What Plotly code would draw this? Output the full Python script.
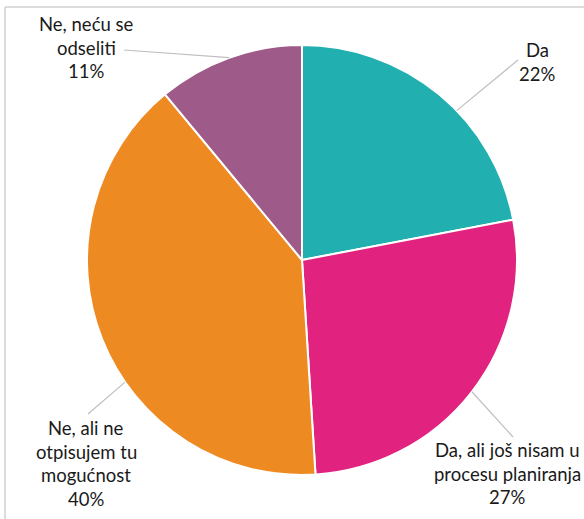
import math
import plotly.graph_objects as go

labels = ["Da", "Da, ali još nisam u procesu planiranja", "Ne, ali ne otpisujem tu mogućnost", "Ne, neću se odseliti"]
values = [22, 27, 40, 11]
label_lines = [["Da", "22%"],
               ["Da, ali još nisam u", "procesu planiranja", "27%"],
               ["Ne, ali ne", "otpisujem tu", "mogućnost", "40%"],
               ["Ne, neću se", "odseliti", "11%"]]
colors = ["#22AFB0", "#E1237F", "#EE8A22", "#9E5A88"]

W, H = 584, 519
CX, CY, R = 302, 260, 215
# label layout: center x and first-line center y (pixels), line pitch
label_pos = [(537, 50), (507, 450), (86, 428), (86, 24)]
LINE_PITCH = 23.5
line_end = [(518, 60), (513, 437), (88, 414), (124, 50)]
angle_offset = [6.4, 0, -13, 0]
FONT = dict(family="Lato", size=18.5, color="#1a1a1a")

def px(x):
    return x / W

def py(y):
    return 1 - y / H

fig = go.Figure(go.Pie(
    labels=labels, values=values, sort=False, direction="clockwise", rotation=0,
    marker=dict(colors=colors, line=dict(color="white", width=2)),
    textinfo="none", hoverinfo="label+percent", showlegend=False,
    domain=dict(x=[px(CX - R), px(CX + R)], y=[py(CY + R), py(CY - R)]),
))

shapes = []
annotations = []
total = sum(values)
cum = 0
for i, v in enumerate(values):
    mid = (cum + v / 2) / total * 360 + angle_offset[i]
    cum += v
    ex = CX + R * math.sin(math.radians(mid))
    ey = CY - R * math.cos(math.radians(mid))
    lx, ly = line_end[i]
    shapes.append(dict(type="line", xref="paper", yref="paper",
                       x0=px(ex), y0=py(ey), x1=px(lx), y1=py(ly),
                       line=dict(color="#BFBFBF", width=1.2)))
    tx, ty = label_pos[i]
    for j, line in enumerate(label_lines[i]):
        annotations.append(dict(text=line, x=px(tx), y=py(ty + j * LINE_PITCH), xref="paper", yref="paper",
                                showarrow=False, xanchor="center", yanchor="middle", align="center",
                                font=FONT))

# chart frame (partially visible)
shapes.append(dict(type="line", xref="paper", yref="paper", x0=px(5), y0=py(7), x1=1.01, y1=py(7),
                   line=dict(color="#D0D0D0", width=1.5)))
shapes.append(dict(type="line", xref="paper", yref="paper", x0=px(5), y0=py(7), x1=px(5), y1=-0.01,
                   line=dict(color="#D0D0D0", width=1.5)))

fig.update_layout(width=W, height=H, margin=dict(l=0, r=0, t=0, b=0),
                  paper_bgcolor="white", plot_bgcolor="white",
                  shapes=shapes, annotations=annotations)
fig.write_html("out.html", config={"displayModeBar": False},
               post_script="document.body.style.margin='0';document.body.style.padding='0';document.documentElement.style.overflow='hidden';")
